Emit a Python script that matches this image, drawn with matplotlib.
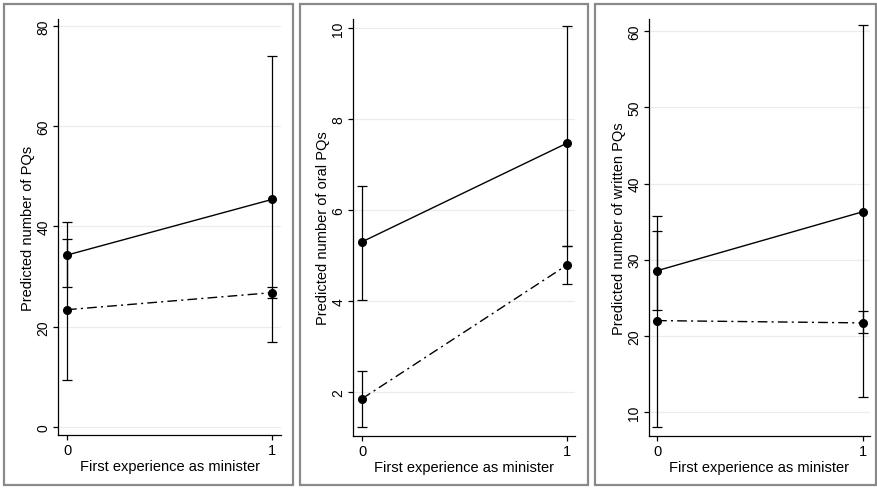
import numpy as np
import matplotlib as mpl
import matplotlib.pyplot as plt
from matplotlib.patches import Rectangle

plt.rcParams['font.family'] = ['Liberation Sans', 'DejaVu Sans']

x = [0, 1]

# panel 1: all PQs
pq_solid = [34.3, 45.4]
pq_solid_lo = [28.0, 17.0]
pq_solid_hi = [40.8, 74.0]
pq_dash = [23.4, 26.8]
pq_dash_lo = [9.4, 25.8]
pq_dash_hi = [37.6, 28.0]

# panel 2: oral PQs
oral_solid = [5.30, 7.47]
oral_solid_lo = [4.02, 5.21]
oral_solid_hi = [6.53, 10.05]
oral_dash = [1.85, 4.79]
oral_dash_lo = [1.23, 4.37]
oral_dash_hi = [2.46, 5.20]

# panel 3: written PQs
wr_solid = [28.55, 36.3]
wr_solid_lo = [23.4, 12.0]
wr_solid_hi = [33.8, 60.8]
wr_dash = [22.0, 21.7]
wr_dash_lo = [8.0, 20.4]
wr_dash_hi = [35.8, 23.2]

W, H = 878, 489
fig = plt.figure(figsize=(W/100, H/100), dpi=100)


def px_axes(x0, x1, y0, y1):
    return fig.add_axes([x0/W, (H-y1)/H, (x1-x0)/W, (y1-y0)/H])


def frame(x0, x1, y0, y1):
    fig.patches.append(Rectangle((x0/W, (H-y1)/H), (x1-x0)/W, (y1-y0)/H,
                                 transform=fig.transFigure, fill=False,
                                 edgecolor='#8a8a8a', linewidth=1.6))


def panel(ax, s, slo, shi, d, dlo, dhi, yticks, ylim, xlim, ylabel):
    ax.set_facecolor('white')
    for t in yticks:
        ax.axhline(t, color='#ececec', linewidth=0.9, zorder=0)
    ax.plot(x, d, color='black', linewidth=1.0,
            linestyle=(0, (7, 3, 1.5, 3)), zorder=2)
    ax.plot(x, s, color='black', linewidth=1.0, zorder=2)
    for y, lo, hi in [(s, slo, shi), (d, dlo, dhi)]:
        err = [np.array(y) - np.array(lo), np.array(hi) - np.array(y)]
        ax.errorbar(x, y, yerr=err, fmt='o', color='black', markersize=5.5,
                    elinewidth=0.9, capsize=3.5, capthick=0.9, zorder=3)
    ax.set_ylim(ylim)
    ax.set_xlim(xlim)
    ax.set_yticks(yticks)
    ax.set_xticks([0, 1])
    ax.set_yticklabels([str(t) for t in yticks], rotation=90, va='center',
                       fontsize=10)
    ax.set_xticklabels(['0', '1'], fontsize=10.5)
    ax.spines['top'].set_visible(False)
    ax.spines['right'].set_visible(False)
    ax.spines['left'].set_linewidth(0.9)
    ax.spines['bottom'].set_linewidth(0.9)
    ax.tick_params(length=3.5, width=0.9, pad=2)
    ax.set_ylabel(ylabel, fontsize=10.5, labelpad=1)
    ax.set_xlabel('First experience as minister', fontsize=10.5, labelpad=2)


frame(4, 293, 5, 486)
frame(300, 588, 5, 486)
frame(595, 876, 5, 486)

ax1 = px_axes(58, 281, 20, 436)
panel(ax1, pq_solid, pq_solid_lo, pq_solid_hi, pq_dash, pq_dash_lo, pq_dash_hi,
      [0, 20, 40, 60, 80], (-1.6, 81.4), (-0.044, 1.044),
      'Predicted number of PQs')

ax2 = px_axes(353, 575, 20, 437)
panel(ax2, oral_solid, oral_solid_lo, oral_solid_hi, oral_dash, oral_dash_lo,
      oral_dash_hi, [2, 4, 6, 8, 10], (1.03, 10.2), (-0.044, 1.039),
      'Predicted number of oral PQs')

ax3 = px_axes(649, 870, 20, 437)
panel(ax3, wr_solid, wr_solid_lo, wr_solid_hi, wr_dash, wr_dash_lo, wr_dash_hi,
      [10, 20, 30, 40, 50, 60], (6.85, 61.6), (-0.039, 1.034),
      'Predicted number of written PQs')

plt.savefig('out.png', dpi=100)
